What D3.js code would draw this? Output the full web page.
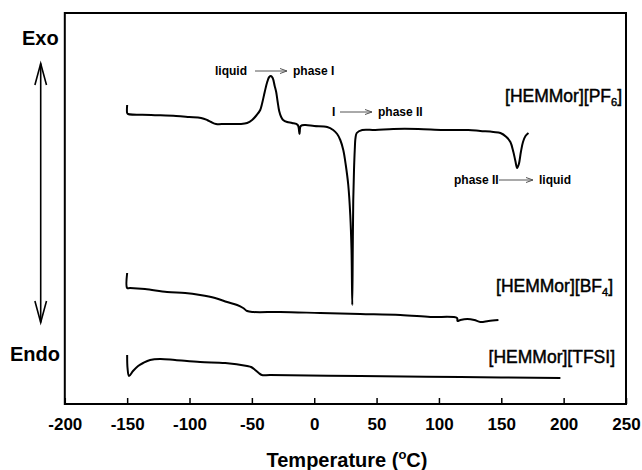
<!DOCTYPE html>
<html>
<head>
<meta charset="utf-8">
<script src="https://cdn.jsdelivr.net/npm/d3@7"></script>
<style>
  body { margin: 0; background: #fff; }
  svg text { font-family: "Liberation Sans", Arial, Helvetica, sans-serif; }
</style>
</head>
<body>
<div id="chart"></div>
<script>
// DSC traces, temperature (°C) vs heat flow (arbitrary units, offset per trace)
const temp_ticks = [-200, -150, -100, -50, 0, 50, 100, 150, 200, 250];

const pf6 = [
  [-150, 29.9], [-150, 29.1], [-149.3, 29.0], [-130.8, 28.9], [-110.8, 28.8],
  [-100.3, 28.7], [-90.7, 28.6], [-85.9, 28.4], [-82.7, 28.2], [-78.7, 28.0],
  [-71.4, 28.0], [-59.4, 28.0], [-53.8, 28.1], [-49.8, 28.4], [-46.1, 28.9],
  [-43.3, 29.4], [-41.7, 30.1], [-39.7, 31.2], [-37.7, 32.2], [-36.1, 32.7],
  [-34.7, 32.8], [-33.3, 32.6], [-31.7, 31.8], [-30.5, 31.2], [-29.3, 30.2],
  [-28.1, 29.3], [-26.5, 28.7], [-24.9, 28.4], [-21.7, 28.2], [-17.7, 28.1],
  [-13.2, 27.9], [-11.8, 27.0], [-10.8, 27.8], [-7.2, 27.9], [0.0, 27.8],
  [10.4, 27.7], [15.2, 27.4], [18.4, 27.0], [20.9, 26.4], [23.3, 25.4],
  [25.3, 23.9], [27.3, 21.9], [28.9, 18.9], [29.9, 15.4], [30.5, 9.9],
  [30.9, 15.4], [31.3, 20.4], [31.9, 23.4], [32.5, 25.4], [33.1, 26.6],
  [34.1, 27.1], [38.5, 27.4], [48.9, 27.4], [63.4, 27.5], [83.4, 27.5],
  [103.5, 27.4], [123.6, 27.4], [133.2, 27.3], [143.6, 27.2], [149.3, 27.1],
  [154.1, 26.7], [157.3, 26.2], [159.7, 25.2], [161.3, 24.3], [162.7, 23.6],
  [164.1, 24.0], [165.7, 25.2], [167.4, 26.2], [169.4, 26.8], [171.8, 27.1]
];

const bf4 = [
  [-150, 13.1], [-150, 11.6], [-147.7, 11.6], [-135.7, 11.5], [-118.0, 11.2],
  [-103.5, 11.1], [-91.5, 10.9], [-79.5, 10.6], [-69.8, 10.2], [-61.8, 9.9],
  [-57.0, 9.6], [-53.8, 9.3], [-49.0, 9.2], [-27.3, 9.2], [4.8, 9.1],
  [36.9, 9.0], [69.0, 8.9], [93.1, 8.7], [114.5, 8.6], [114.9, 8.3],
  [117.2, 8.4], [122.8, 8.5], [128.4, 8.4], [133.2, 8.2], [139.7, 8.3],
  [147.7, 8.4]
];

const tfsi = [
  [-150, 4.9], [-149.7, 3.6], [-148.5, 2.8], [-145.3, 3.3], [-141.2, 3.8],
  [-137.2, 4.1], [-131.6, 4.4], [-123.6, 4.5], [-111.6, 4.4], [-91.5, 4.2],
  [-71.4, 4.1], [-53.8, 3.8], [-50.6, 3.7], [-47.4, 3.4], [-44.5, 3.1],
  [-42.0, 2.9], [-35.3, 2.9], [36.9, 2.8], [117.2, 2.7], [197.4, 2.6]
];

const series = [
  {name: 'PF6', values: pf6},
  {name: 'BF4', values: bf4},
  {name: 'TFSI', values: tfsi}
];

const W = 642, H = 470;
const margin = {left: 64.8, right: 16, top: 13, bottom: 66};
const font = '"Liberation Sans", Arial, Helvetica, sans-serif';

const svg = d3.select('#chart').append('svg')
  .attr('width', W)
  .attr('height', H);

const x = d3.scaleLinear().domain([-200, 250]).range([margin.left, W - margin.right]);
const y = d3.scaleLinear().domain([0, 39.1]).range([H - margin.bottom, margin.top]);

// x axis, ticks pointing into the plot
const xAxis = svg.append('g')
  .attr('transform', `translate(0,${y(0)})`)
  .call(d3.axisBottom(x).tickValues(temp_ticks).tickFormat(d3.format('d'))
    .tickSizeInner(-6).tickSizeOuter(0));
xAxis.select('.domain').remove();
xAxis.selectAll('.tick line').attr('stroke', '#000').attr('stroke-width', 1.5);
xAxis.selectAll('.tick text')
  .attr('y', 26).attr('dy', 0)
  .attr('fill', '#000')
  .style('font-family', font)
  .style('font-size', '17px')
  .style('font-weight', 'bold')
  .text(d => d < 0 ? '-' + Math.abs(d) : d);

// frame
svg.append('rect')
  .attr('x', x(-200)).attr('y', y(39.1))
  .attr('width', x(250) - x(-200))
  .attr('height', y(0) - y(39.1))
  .attr('fill', 'none')
  .attr('stroke', '#000')
  .attr('stroke-width', 2);

// traces
const line = d3.line()
  .x(d => x(d[0]))
  .y(d => y(d[1]))
  .curve(d3.curveCatmullRom.alpha(0.5));

svg.append('g').selectAll('path')
  .data(series)
  .join('path')
  .attr('d', d => line(d.values))
  .attr('fill', 'none')
  .attr('stroke', '#000')
  .attr('stroke-width', 2)
  .attr('stroke-linejoin', 'round');

// axis title
const title = svg.append('text')
  .attr('x', 347).attr('y', 467)
  .attr('text-anchor', 'middle')
  .style('font-size', '20px').style('font-weight', 'bold');
title.append('tspan').text('Temperature (');
title.append('tspan').attr('font-size', '13px').attr('dy', -8).text('o');
title.append('tspan').attr('dy', 8).text('C)');

// Exo / Endo labels and the double arrow
svg.append('text').attr('x', 22).attr('y', 45)
  .style('font-size', '20px').style('font-weight', 'bold').text('Exo');
svg.append('text').attr('x', 10).attr('y', 361)
  .style('font-size', '20px').style('font-weight', 'bold').text('Endo');

const ax = 40.7;
const arrow_g = svg.append('g').attr('stroke', '#000').attr('stroke-width', 1.6).attr('fill', 'none');
arrow_g.append('line').attr('x1', ax).attr('x2', ax).attr('y1', 63.5).attr('y2', 322.5);
arrow_g.append('path').attr('d', `M${ax - 5.8},85 L${ax},63.5 L${ax + 5.8},85`);
arrow_g.append('path').attr('d', `M${ax - 5.8},301 L${ax},322.5 L${ax + 5.8},301`);

// sample labels (slightly heavier than regular weight, as in the original)
function sampleLabel(px, py, main, sub, tail){
  const t = svg.append('text')
    .attr('x', px).attr('y', py)
    .attr('text-anchor', 'end')
    .attr('stroke', '#000').attr('stroke-width', 0.45)
    .style('font-size', '17.5px');
  t.append('tspan').text(main);
  if(sub){
    t.append('tspan').attr('font-size', '11px').attr('dy', 4).text(sub);
    t.append('tspan').attr('dy', -4).text(tail);
  }
}
sampleLabel(622, 102, '[HEMMor][PF', '6', ']');
sampleLabel(613, 292, '[HEMMor][BF', '4', ']');
sampleLabel(615, 363, '[HEMMor][TFSI]');

// transition annotations: text - arrow - text
function annotate(px, py, left, a1, a2, right){
  const t = svg.append('g').style('font-size', '12px').style('font-weight', 'bold');
  t.append('text').attr('x', px).attr('y', py).text(left);
  const ay = py - 4;
  t.append('line').attr('x1', a1).attr('x2', a2).attr('y1', ay).attr('y2', ay)
    .attr('stroke', '#555').attr('stroke-width', 1);
  t.append('path').attr('d', `M${a2 - 7},${ay - 2.5} L${a2},${ay} L${a2 - 7},${ay + 2.5}`)
    .attr('fill', 'none').attr('stroke', '#555').attr('stroke-width', 1);
  t.append('text').attr('x', a2 + 6).attr('y', py).text(right);
}
annotate(215, 75, 'liquid', 255, 287, 'phase I');
annotate(332, 116, 'I', 340, 372, 'phase II');
annotate(454, 184, 'phase II', 499, 533, 'liquid');
</script>
</body>
</html>
